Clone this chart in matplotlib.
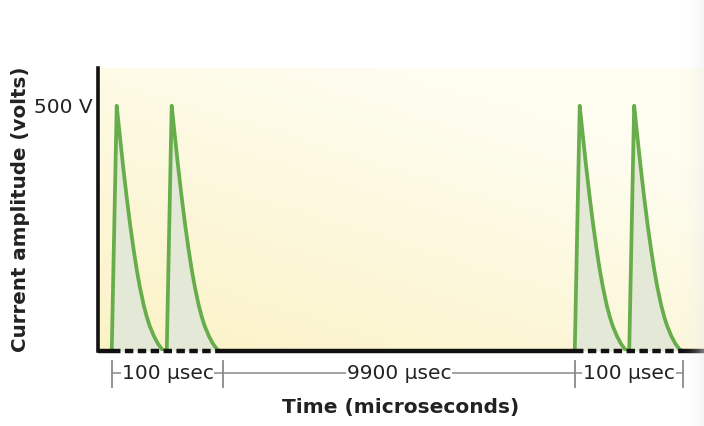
import matplotlib.pyplot as plt
import numpy as np

plt.rcParams['font.family'] = ['DejaVu Sans']

# Pulse shape: offset (usec) -> amplitude (V)
PULSE_T = [0, 4.5, 7.3, 10.3, 13.6, 16.8, 20, 22.7, 25.5, 29.1, 31.8, 34.5,
           38.2, 41.8, 45.5, 48.2]
PULSE_V = [0, 500, 440, 377, 313, 256, 205, 166, 131, 93, 70, 51,
           31, 15.5, 4, 0]

# Schematic pulse start positions (axis is not to scale)
PULSE_STARTS = [12.5, 62.5, 433.5, 483]
X_MAX = 551
Y_MAX = 577

# Brackets below the time axis
BRACKET_EDGES = [12.5, 114, 433.5, 532]
BRACKET_LABELS = ['100 μsec', '9900 μsec', '100 μsec']

# Dashed baseline spans (pulse trains)
DASHED_SPANS = [(12.5, 110.5), (433.5, 531)]

COLORS = {
    'line': '#68AD4C',
    'fill': '#E3E9D6',
    'axis': '#111111',
    'bracket': '#8A8A8A',
    'text': '#222222',
}

fig = plt.figure(figsize=(7.04, 4.26), dpi=100, facecolor='white')
ax = fig.add_axes([98 / 704, 75 / 426, 606 / 704, 283 / 426])

# Cream/yellow gradient background
ny, nx = 60, 120
gx, gy = np.meshgrid(np.linspace(0, 1, nx), np.linspace(0, 1, ny))
w = np.clip(0.5 * gx + 0.75 * gy, 0, 1)
c0 = np.array([0.984, 0.950, 0.775])
c1 = np.array([0.998, 0.993, 0.945])
img = c0[None, None, :] * (1 - w[..., None]) + c1[None, None, :] * w[..., None]
ax.imshow(img, extent=[0, 1, 0, 1], transform=ax.transAxes, origin='lower',
          aspect='auto', zorder=0)

# Pulses
t = np.array(PULSE_T)
v = np.array(PULSE_V)
for start in PULSE_STARTS:
    ax.fill_between(start + t, 0, v, color=COLORS['fill'], zorder=1, lw=0)
    ax.plot(start + t, v, color=COLORS['line'], lw=2.7, zorder=2,
            solid_joinstyle='round')

ax.set_xlim(0, X_MAX)
ax.set_ylim(0, Y_MAX)

# Axes: left spine solid, bottom drawn as solid + dashed pieces
for s in ['top', 'right', 'bottom']:
    ax.spines[s].set_visible(False)
ax.spines['left'].set_linewidth(2.6)
ax.spines['left'].set_color(COLORS['axis'])

solid_pts = [0]
for a, b in DASHED_SPANS:
    solid_pts += [a, b]
solid_pts.append(X_MAX)
for i in range(0, len(solid_pts), 2):
    ax.plot([solid_pts[i], solid_pts[i + 1]], [0, 0], color=COLORS['axis'],
            lw=3.2, solid_capstyle='butt', clip_on=False, zorder=3)
for a, b in DASHED_SPANS:
    ax.plot([a, b], [0, 0], color=COLORS['axis'], lw=3.2, clip_on=False,
            linestyle=(0, (1.9, 1.0)), dash_capstyle='butt', zorder=3)

ax.set_xticks([])
ax.set_yticks([500])
ax.set_yticklabels(['500 V'], fontsize=14.5, color=COLORS['text'])
ax.tick_params(axis='y', length=0, pad=4)

ax.set_ylabel('Current amplitude (volts)', fontsize=14.3, fontweight='bold',
              color=COLORS['text'], labelpad=3)
ax.set_xlabel('Time (microseconds)', fontsize=14.5, fontweight='bold',
              color=COLORS['text'], labelpad=33.5)

# Brackets with labels
trans = ax.get_xaxis_transform()
y_line = -0.078
for i, label in enumerate(BRACKET_LABELS):
    x0, x1 = BRACKET_EDGES[i], BRACKET_EDGES[i + 1]
    ax.plot([x0, x1], [y_line, y_line], transform=trans, color=COLORS['bracket'],
            lw=1.1, clip_on=False)
    ax.text((x0 + x1) / 2, y_line, label, transform=trans, ha='center',
            va='center', fontsize=14.5, color=COLORS['text'],
            bbox=dict(facecolor='white', edgecolor='none', pad=0.6))
for x in BRACKET_EDGES:
    ax.plot([x, x], [-0.035, -0.127], transform=trans, color=COLORS['bracket'],
            lw=1.3, clip_on=False)

# Faint grey shading along the right edge of the picture
shade = fig.add_axes([680 / 704, 0, 24 / 704, 1], zorder=5)
sx = np.linspace(0, 1, 40)
rgba = np.zeros((2, 40, 4))
rgba[..., :3] = 0.93
rgba[..., 3] = (sx ** 2) * 0.5
shade.imshow(rgba, extent=[0, 1, 0, 1], aspect='auto')
shade.set_axis_off()

fig.savefig('out.png', dpi=100, facecolor='white')
